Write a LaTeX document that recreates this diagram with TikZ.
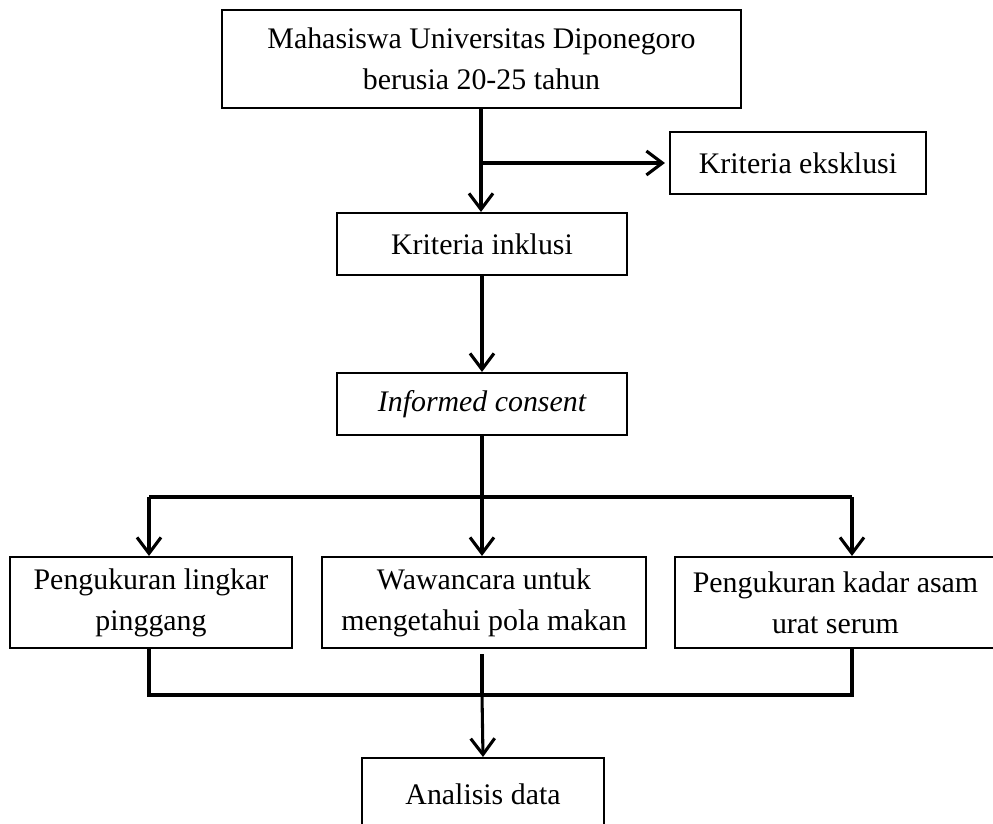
\documentclass[tikz,border=0pt]{standalone}
\usepackage{fontspec}
\setmainfont{Liberation Serif}
\usetikzlibrary{arrows.meta}
\begin{document}
\begin{tikzpicture}[x=0.75pt,y=-0.75pt,
  box/.style={draw, line width=1.6pt, align=center, inner sep=0pt,
    font=\fontsize{22.4}{30.8}\selectfont},
  conn/.style={line width=2.3pt},
  arr/.style={conn, -{Straight Barb[length=12pt,width=18pt,line width=2.3pt]}}]
\useasboundingbox (0,0) rectangle (993,824);
\node[box, minimum width={519*0.75}, minimum height={98*0.75}] (top) at (481.5,59)
  {Mahasiswa Universitas Diponegoro\\berusia 20-25 tahun};
\node[box, minimum width={256*0.75}, minimum height={62*0.75}] (eks) at (798,163) {Kriteria eksklusi};
\node[box, minimum width={290*0.75}, minimum height={62*0.75}] (inkl) at (482,244) {Kriteria inklusi};
\node[box, minimum width={290*0.75}, minimum height={62*0.75}] (inf) at (482,404) {\itshape Informed consent};
\node[box, minimum width={282*0.75}, minimum height={91*0.75}] (pl) at (151,602.5) {Pengukuran lingkar\\pinggang};
\node[box, minimum width={324*0.75}, minimum height={91*0.75}] (pm) at (484,602.5) {Wawancara untuk\\mengetahui pola makan};
\node[box, minimum width={321*0.75}, minimum height={91*0.75}] (pr) at (835.5,602.5) {Pengukuran kadar asam\\urat serum};
\node[box, minimum width={242*0.75}, minimum height={72*0.75}, anchor=north] (an) at (483,757) {Analisis data};
% top to inklusi with branch
\coordinate (b1) at (481,163);
\draw[arr] (top.south -| b1) -- (inkl.north -| b1);
\draw[arr, shorten >=3pt] (b1) -- (eks.west);
\draw[arr] (inkl.south) -- (inf.north);
% split
\coordinate (s) at (482,497);
\coordinate (sl) at (149,497);
\coordinate (sr) at (852,497);
\draw[conn] (inf.south) -- (s);
\draw[conn] (sl) -- (sr);
\draw[arr] (sl) -- (pl.north -| sl);
\draw[arr] (s) -- (pm.north -| s);
\draw[arr] (sr) -- (pr.north -| sr);
% join
\coordinate (j) at (482,695);
\coordinate (jl) at (149,695);
\coordinate (jr) at (852,695);
\draw[conn] (pl.south -| jl) -- (jl) -- (jr) -- (pr.south -| jr);
\draw[conn, shorten <=4pt] (pm.south -| j) -- (j);
\draw[arr] (j) -- (an.north);
\end{tikzpicture}
\end{document}
